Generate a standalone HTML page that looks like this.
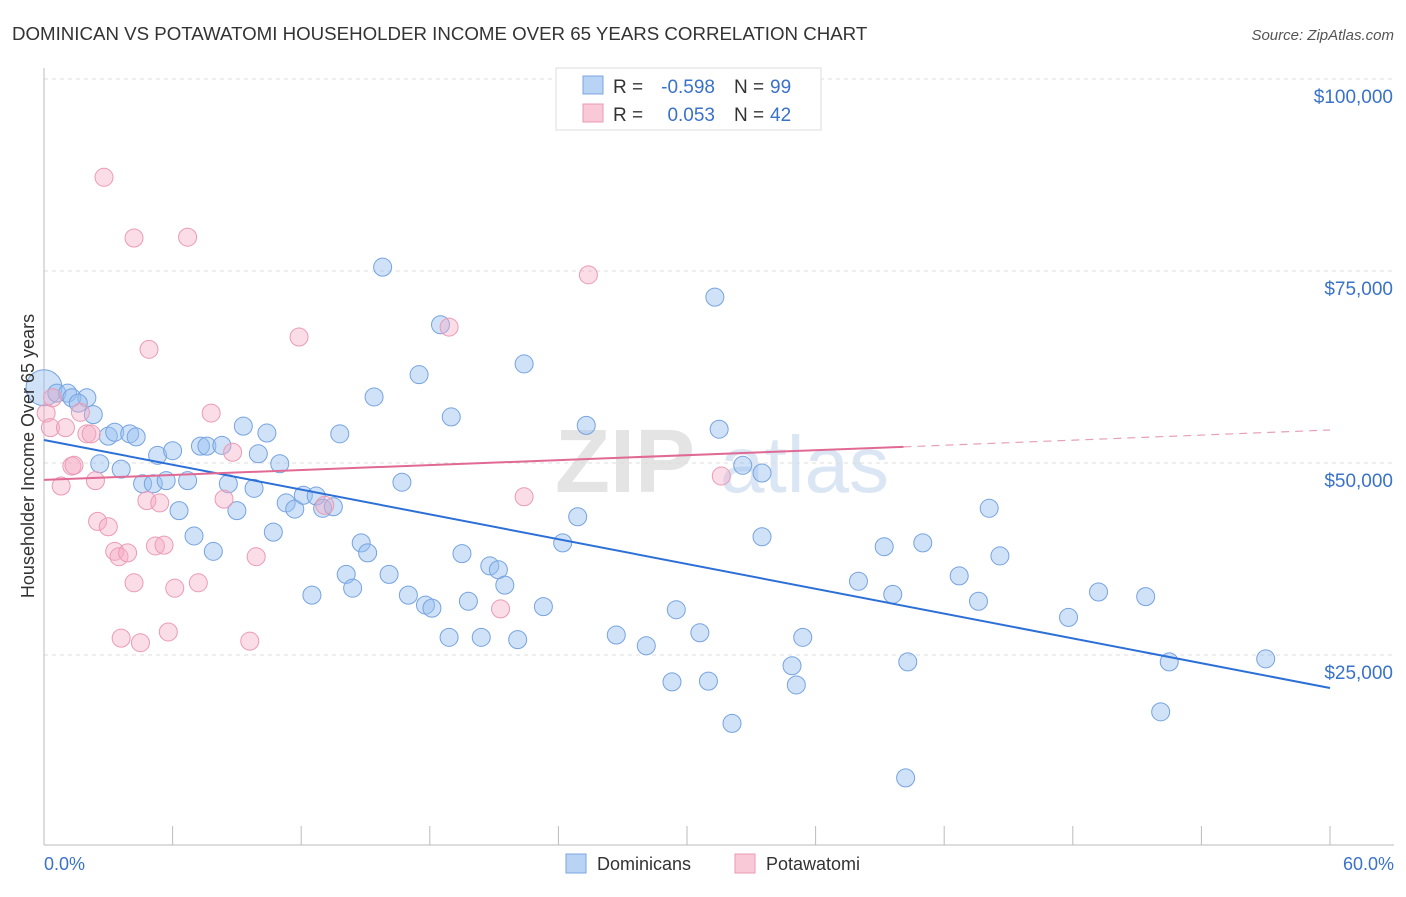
<!DOCTYPE html>
<html><head><meta charset="utf-8"><style>
body{margin:0;background:#fff;font-family:"Liberation Sans",sans-serif}
svg text{font-family:"Liberation Sans",sans-serif}
</style></head><body>
<svg id="c" width="1406" height="892" xmlns="http://www.w3.org/2000/svg">
<text x="12" y="40" font-size="18.7" fill="#333">DOMINICAN VS POTAWATOMI HOUSEHOLDER INCOME OVER 65 YEARS CORRELATION CHART</text>
<text x="1394" y="40" font-size="15" fill="#555" text-anchor="end" font-style="italic">Source: ZipAtlas.com</text>
<text x="555" y="492" font-size="90" fill="#e4e4e4" font-family="Liberation Serif" font-weight="bold">ZIP</text>
<text x="720" y="492" font-size="80" fill="#dbe6f5">atlas</text>
<g id="grid"></g><g id="axes"></g><g id="pts"></g><g id="lines"></g>
<text transform="translate(34,456) rotate(-90)" font-size="18" fill="#333" text-anchor="middle">Householder Income Over 65 years</text>
<text x="44" y="870" font-size="18" fill="#3a72c9">0.0%</text>
<text x="1394" y="870" font-size="18" fill="#3a72c9" text-anchor="end">60.0%</text>
<g>
<rect x="556" y="68" width="265" height="62" fill="#fff" stroke="#ddd"/>
<rect x="583" y="76" width="20" height="18" fill="#b9d3f5" stroke="#7aa5e0"/>
<rect x="583" y="104" width="20" height="18" fill="#f9c9d8" stroke="#eb9ab5"/>
<text x="613" y="93" font-size="19" fill="#333">R =</text>
<text x="715" y="93" font-size="19" fill="#3a72c9" text-anchor="end">-0.598</text>
<text x="734" y="93" font-size="19" fill="#333">N =</text>
<text x="770" y="93" font-size="19" fill="#3a72c9">99</text>
<text x="613" y="121" font-size="19" fill="#333">R =</text>
<text x="715" y="121" font-size="19" fill="#3a72c9" text-anchor="end">0.053</text>
<text x="734" y="121" font-size="19" fill="#333">N =</text>
<text x="770" y="121" font-size="19" fill="#3a72c9">42</text>
</g>
<g>
<rect x="566" y="854" width="20" height="19" fill="#b9d3f5" stroke="#7aa5e0"/>
<text x="597" y="870" font-size="18" fill="#333">Dominicans</text>
<rect x="735" y="854" width="20" height="19" fill="#f9c9d8" stroke="#eb9ab5"/>
<text x="766" y="870" font-size="18" fill="#333">Potawatomi</text>
</g>
</svg>
<script>
const yTicks=[25000,50000,75000,100000];
const yTickLabels=["$25,000","$50,000","$75,000","$100,000"];
const blueX=[0.0,0.6,1.1,1.3,2.0,1.6,2.3,3.0,3.3,4.0,4.3,2.6,3.6,5.3,6.0,4.6,5.1,5.7,6.7,6.3,7.0,7.3,7.6,8.3,7.9,8.6,9.0,9.3,9.8,10.0,10.4,11.0,10.7,11.3,11.7,12.1,12.7,13.0,13.5,12.5,13.8,14.1,14.4,14.8,15.1,15.4,15.8,16.1,16.7,17.0,17.5,17.8,18.1,18.5,19.0,18.9,19.5,19.8,20.4,20.8,21.2,21.5,22.1,22.4,23.3,24.2,24.9,25.3,26.7,28.1,29.3,29.5,30.6,31.0,31.3,31.5,32.1,32.6,33.5,33.5,34.9,35.1,35.4,38.0,39.2,39.6,40.3,40.2,41.0,42.7,43.6,44.1,44.6,47.8,49.2,51.4,52.1,52.5,57.0];
const blueY=[59.8,59.1,59.1,58.5,58.5,57.8,56.3,53.5,54.0,53.8,53.4,49.9,49.2,51.0,51.6,47.3,47.3,47.7,47.7,43.8,40.5,52.2,52.2,52.3,38.5,47.3,43.8,54.8,46.7,51.2,53.9,49.9,41.0,44.8,44.0,45.8,45.7,44.1,44.3,32.8,53.8,35.5,33.7,39.6,38.3,58.6,75.5,35.5,47.5,32.8,61.5,31.5,31.1,68.0,56.0,27.3,38.2,32.0,27.3,36.6,36.1,34.1,27.0,62.9,31.3,39.6,43.0,54.9,27.6,26.2,21.5,30.9,27.9,21.6,71.6,54.4,16.1,49.7,48.7,40.4,23.6,21.1,27.3,34.6,39.1,32.9,24.1,9.0,39.6,35.3,32.0,44.1,37.9,29.9,33.2,32.6,17.6,24.1,24.5];
const pinkX=[0.1,0.4,0.3,0.8,1.0,1.3,1.4,1.7,2.0,2.2,2.4,2.5,2.8,3.0,3.3,3.5,3.6,3.9,4.2,4.2,4.5,4.8,4.9,5.2,5.4,5.6,5.8,6.1,6.7,7.2,7.8,8.4,8.8,9.6,9.9,11.9,13.1,18.9,21.3,22.4,25.4,31.6];
const pinkY=[56.5,58.5,54.6,47.0,54.6,49.6,49.7,56.6,53.8,53.8,47.7,42.4,87.2,41.7,38.5,37.8,27.2,38.3,34.4,79.3,26.6,45.1,64.8,39.2,44.8,39.3,28.0,33.7,79.4,34.4,56.5,45.3,51.4,26.8,37.8,66.4,44.5,67.7,31.0,45.6,74.5,48.3];
const blueTrendX=[0,60], blueTrendY=[53.0,20.7];
const pinkTrendX=[0,40.1,60], pinkTrendY=[47.8,52.1,54.3];
const NS="http://www.w3.org/2000/svg";
const X=v=>44+v/60*1286, Y=v=>847-v*1000/25000*192;
function mk(t,a,p){const e=document.createElementNS(NS,t);for(const k in a)e.setAttribute(k,a[k]);document.getElementById(p).appendChild(e);return e;}
yTicks.forEach((t,i)=>{
 const l=mk('line',{x1:44,x2:1394,y1:Y(t/1000),y2:Y(t/1000),stroke:'#ddd','stroke-dasharray':'4,4'},'grid');
 
 
 const tx=mk('text',{x:1393,y:Y(t/1000)+24,'font-size':19,fill:'#3a72c9','text-anchor':'end'},'grid');
 tx.textContent=yTickLabels[i];
 
 
});
const ax=mk('line',{x1:44,x2:1394,y1:845,y2:845,stroke:'#bbb'},'axes');


const ay=mk('line',{x1:44,x2:44,y1:68,y2:845,stroke:'#bbb'},'axes');


for(let i=0;i<=10;i++){const t=mk('line',{x1:X(i*6),x2:X(i*6),y1:826,y2:845,stroke:'#bbb'},'axes');
 
 }
blueX.forEach((x,i)=>{const c=mk('circle',{cx:X(x),cy:Y(blueY[i]),r:i==0?18:9,fill:'rgba(150,190,240,0.45)',stroke:'#76a3e0','stroke-width':1},'pts');
 
 });
pinkX.forEach((x,i)=>{const c=mk('circle',{cx:X(x),cy:Y(pinkY[i]),r:9,fill:'rgba(245,170,195,0.4)',stroke:'#eb9ab5','stroke-width':1},'pts');
 
 });
const bl=mk('line',{x1:X(blueTrendX[0]),y1:Y(blueTrendY[0]),x2:X(blueTrendX[1]),y2:Y(blueTrendY[1]),stroke:'#2c6fd6','stroke-width':2},'lines');


const pl=mk('line',{x1:X(pinkTrendX[0]),y1:Y(pinkTrendY[0]),x2:X(pinkTrendX[1]),y2:Y(pinkTrendY[1]),stroke:'#e06a93','stroke-width':2},'lines');


const pd=mk('line',{x1:X(pinkTrendX[1]),y1:Y(pinkTrendY[1]),x2:X(pinkTrendX[2]),y2:Y(pinkTrendY[2]),stroke:'#e8a0b8','stroke-width':1.2,'stroke-dasharray':'8,6'},'lines');


</script>
</body></html>
